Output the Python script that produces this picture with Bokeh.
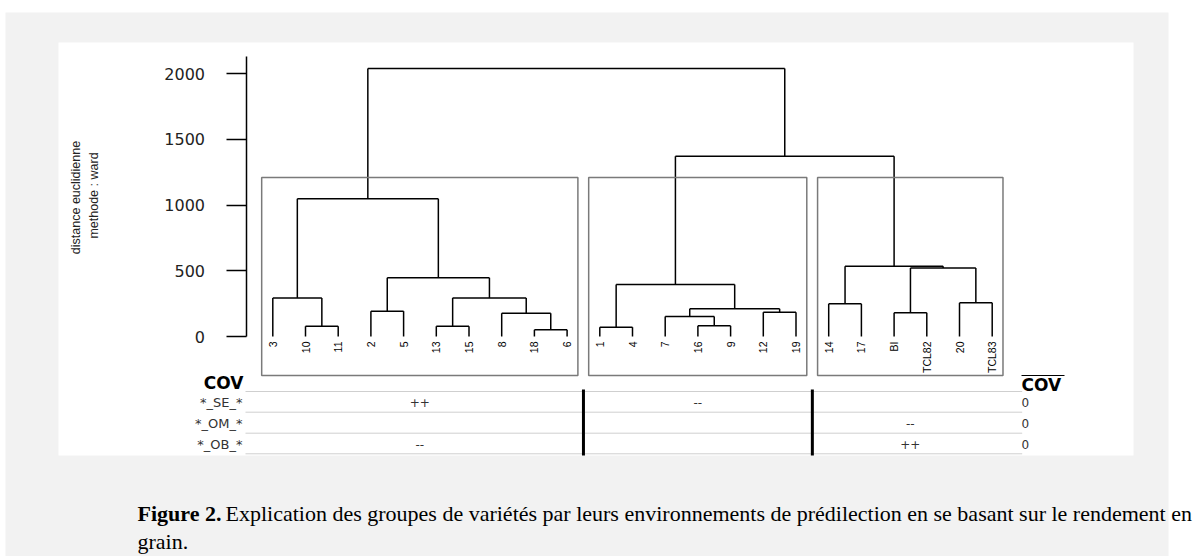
import numpy as np
from bokeh.plotting import figure
from bokeh.models import LinearAxis, FixedTicker, Range1d
from bokeh.embed import file_html
from bokeh.resources import INLINE
from bokeh.core.properties import value

# ---------------- data ----------------
leaf_labels = ["3", "10", "11", "2", "5", "13", "15", "8", "18", "6",
               "1", "4", "7", "16", "9", "12", "19",
               "14", "17", "BI", "TCL82", "20", "TCL83"]

# merges (hclust style): str = leaf label, int = earlier merge number (1-based)
merge_a = ["10", "13", "18", "1", "16", "12", "14", "BI", "20", "3", "2", "8",
           2, 11, 10, "7", 16, 4, 8, 7, 18, 15]
merge_b = ["11", "15", "6", "4", "9", "19", "17", "TCL82", "TCL83", 1, "5", 3,
           12, 13, 14, 5, 6, 17, 9, 19, 20, 21]
merge_h = [78, 78, 51, 71, 81, 185, 249, 180, 256, 294, 193, 177,
           294, 447, 1048, 152, 211, 396, 522, 535, 1372, 2040]

n_groups = 3
y_ticks = [0, 500, 1000, 1500, 2000]

covariates = ["*_SE_*", "*_OM_*", "*_OB_*"]
signs_SE = ["++", "--", ""]
signs_OM = ["", "", "--"]
signs_OB = ["--", "", "++"]
cov_values = ["0", "0", "0"]

y_title_1 = "distance euclidienne"
y_title_2 = "methode : ward"
caption_bold = "Figure 2."
caption_1 = "Explication des groupes de variétés par leurs environnements de prédilection en se basant sur le rendement en"
caption_2 = "grain."

# ---------------- layout helpers (canvas pixels -> data) ----------------
PX0, DXP = 272.3, 32.7      # x of first leaf, px per leaf
PY0, DYP = 336.0, 0.13135   # y of height 0, px per unit height


def dx(px):
    return 1 + (px - PX0) / DXP


def dy(py):
    return (PY0 - py) / DYP


W, H = 1203, 556
p = figure(width=W, height=H, x_range=Range1d(dx(0), dx(W)),
           y_range=Range1d(dy(H), dy(0)), x_axis_type=None, y_axis_type=None,
           toolbar_location=None, output_backend="svg", min_border=0)
p.outline_line_color = None
p.background_fill_color = "white"
p.border_fill_color = "white"
p.xgrid.visible = False
p.ygrid.visible = False

# page background and white panel
p.quad(left=[dx(5)], right=[dx(1168)], top=[dy(12)], bottom=[dy(H)],
       fill_color="#f2f2f2", line_color=None)
p.quad(left=[dx(58)], right=[dx(1133)], top=[dy(42)], bottom=[dy(455)],
       fill_color="white", line_color=None)

# ---------------- dendrogram geometry ----------------
leaf_x = {lab: i + 1 for i, lab in enumerate(leaf_labels)}
node_x, node_h = [], []


def pos(c):
    if isinstance(c, str):
        return leaf_x[c], 0.0
    return node_x[c - 1], node_h[c - 1]


x0s, y0s, x1s, y1s = [], [], [], []
for a, b, h in zip(merge_a, merge_b, merge_h):
    xa, ha = pos(a)
    xb, hb = pos(b)
    node_x.append((xa + xb) / 2)
    node_h.append(h)
    x0s += [xa, xa, xb]
    y0s += [h, h, h]
    x1s += [xb, xa, xb]
    y1s += [h, ha, hb]

p.segment(x0=x0s, y0=y0s, x1=x1s, y1=y1s, line_color="black", line_width=1.5)

# cluster cut (rect.hclust k=3)
hs = sorted(merge_h, reverse=True)
cut_h = (hs[n_groups - 2] + hs[n_groups - 1]) / 2


def leaves_of(c):
    if isinstance(c, str):
        return [c]
    return leaves_of(merge_a[c - 1]) + leaves_of(merge_b[c - 1])


def clusters(c):
    h = 0 if isinstance(c, str) else merge_h[c - 1]
    if h < cut_h:
        return [leaves_of(c)]
    return clusters(merge_a[c - 1]) + clusters(merge_b[c - 1])


groups = clusters(len(merge_h))
sizes = [len(g) for g in groups]
cum = np.concatenate([[0], np.cumsum(sizes)])
box_l = cum[:-1] + 0.66
box_r = cum[1:] + 0.33
box_bottom = dy(375)
p.quad(left=box_l, right=box_r, top=[cut_h] * len(sizes), bottom=[box_bottom] * len(sizes),
       fill_color=None, line_color="#7a7a7a", line_width=1.5)
centers = (box_l + box_r) / 2

# leaf labels
p.text(x=[leaf_x[l] for l in leaf_labels], y=[dy(341)] * len(leaf_labels), text=leaf_labels,
       angle=np.pi / 2, text_align="right", text_baseline="middle",
       text_font=value("Liberation Sans"), text_font_size="10.5px", text_color="black")

# y axis
ax = LinearAxis(fixed_location=dx(245.5), bounds=(0, dy(56)),
                ticker=FixedTicker(ticks=y_ticks))
ax.axis_line_width = 1.5
ax.major_tick_line_width = 1.5
ax.major_tick_out = 20
ax.major_tick_in = 0
ax.minor_tick_out = 0
ax.minor_tick_in = 0
ax.major_label_standoff = 21
ax.major_label_text_font = "DejaVu Sans"
ax.major_label_text_font_size = "16px"
ax.major_label_text_color = "#222222"
p.add_layout(ax, "left")

p.text(x=[dx(75), dx(93)], y=[dy(197), dy(195)], text=[y_title_1, y_title_2],
       angle=np.pi / 2, text_align="center", text_baseline="middle",
       text_font=value("Liberation Sans"), text_font_size="12.5px", text_color="#222222")

# ---------------- table ----------------
row_line_y = [dy(391), dy(411.7), dy(432.7), dy(453.3)]
p.segment(x0=[dx(245)] * 4, x1=[dx(1021.7)] * 4, y0=row_line_y, y1=row_line_y,
          line_color="#cfcfcf", line_width=1)
sep_x = list(cum[1:-1] + 0.5)
p.segment(x0=sep_x, x1=sep_x, y0=[dy(389)] * len(sep_x), y1=[dy(455)] * len(sep_x),
          line_color="black", line_width=3)

row_y = [dy(402.3), dy(423.3), dy(444)]
p.text(x=[dx(243)], y=[dy(382)], text=["COV"], text_align="right", text_baseline="middle",
       text_font=value("DejaVu Sans"), text_font_style="bold", text_font_size="17px",
       text_color="black")
p.text(x=[dx(242)] * 3, y=row_y, text=covariates, text_align="right", text_baseline="middle",
       text_font=value("DejaVu Sans"), text_font_size="13px", text_color="#333333")

cell_x, cell_y, cell_t = [], [], []
for r, row in enumerate([signs_SE, signs_OM, signs_OB]):
    for g, s in enumerate(row):
        if s:
            cell_x.append(centers[g])
            cell_y.append(row_y[r])
            cell_t.append(s)
p.text(x=cell_x, y=cell_y, text=cell_t, text_align="center", text_baseline="middle",
       text_font=value("DejaVu Sans"), text_font_size="12px", text_color="#333333")

p.text(x=[dx(1021)], y=[dy(384)], text=["COV"], text_align="left", text_baseline="middle",
       text_font=value("DejaVu Sans"), text_font_style="bold", text_font_size="17px",
       text_color="black")
p.segment(x0=[dx(1021)], x1=[dx(1064)], y0=[dy(375)], y1=[dy(375)], line_color="black",
          line_width=1)
p.text(x=[dx(1021)] * 3, y=row_y, text=cov_values, text_align="left", text_baseline="middle",
       text_font=value("DejaVu Sans"), text_font_size="12px", text_color="#333333")

# ---------------- caption ----------------
p.text(x=[dx(137)], y=[dy(513)], text=[caption_bold], text_align="left", text_baseline="middle",
       text_font=value("Liberation Serif"), text_font_style="bold", text_font_size="22px",
       text_color="black")
p.text(x=[dx(225)], y=[dy(513)], text=[caption_1], text_align="left", text_baseline="middle",
       text_font=value("Liberation Serif"), text_font_size="22px", text_color="black")
p.text(x=[dx(137)], y=[dy(541)], text=[caption_2], text_align="left", text_baseline="middle",
       text_font=value("Liberation Serif"), text_font_size="22px", text_color="black")

open("out.html", "w").write(file_html(p, INLINE))
